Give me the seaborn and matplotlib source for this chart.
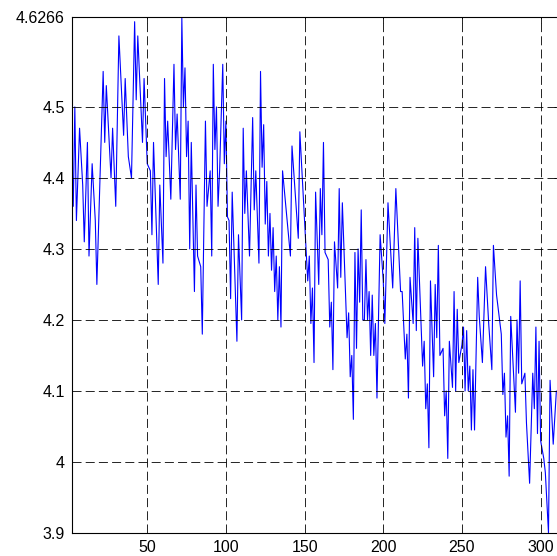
import matplotlib
matplotlib.use('Agg')
import matplotlib.pyplot as plt
import seaborn as sns
import pandas as pd

sample = [2, 3, 4, 5, 7, 9, 10, 12, 13, 15, 17, 18, 22, 23, 24, 27, 28, 30,
          32, 35, 36, 38, 40, 42, 43, 44, 47, 48, 50, 52, 53, 54, 57, 58, 60,
          61, 62, 63, 65, 67, 68, 69, 71, 72, 73, 74, 75, 76, 77, 78, 80, 81,
          82, 84, 85, 87, 88, 90, 91, 92, 93, 94, 95, 96, 98, 99, 100, 101,
          102, 103, 104, 107, 108, 110, 111, 112, 113, 115, 117, 118, 119,
          121, 122, 123, 124, 125, 126, 127, 128, 129, 130, 131, 132, 133,
          134, 135, 136, 141, 142, 146, 147, 152, 153, 154, 155, 156, 157,
          159, 160, 161, 162, 163, 165, 166, 167, 168, 169, 171, 172, 173,
          174, 177, 178, 179, 180, 181, 182, 183, 184, 185, 186, 187, 188,
          189, 190, 191, 192, 193, 194, 195, 196, 198, 200, 201, 203, 206,
          208, 211, 212, 214, 215, 216, 217, 219, 220, 221, 222, 225, 226,
          227, 228, 229, 230, 232, 233, 234, 235, 236, 238, 239, 240, 241,
          242, 244, 245, 246, 247, 248, 250, 251, 252, 253, 254, 255, 256,
          257, 258, 260, 261, 263, 265, 267, 269, 270, 272, 275, 276, 277,
          278, 279, 280, 281, 284, 285, 286, 287, 288, 290, 291, 293, 295,
          296, 297, 298, 299, 300, 302, 303, 305, 306, 308, 310]
value = [4.44, 4.36, 4.50, 4.34, 4.47, 4.39, 4.31, 4.45, 4.29, 4.42, 4.34,
         4.25, 4.55, 4.45, 4.53, 4.40, 4.47, 4.36,
         4.60, 4.46, 4.54, 4.43, 4.40, 4.62, 4.51, 4.60, 4.45, 4.54, 4.42,
         4.41, 4.32, 4.45, 4.25, 4.39, 4.28,
         4.54, 4.43, 4.48, 4.37, 4.56, 4.44, 4.49, 4.37, 4.625, 4.50, 4.555,
         4.43, 4.48, 4.30, 4.45, 4.24, 4.39,
         4.29, 4.275, 4.18, 4.48, 4.36, 4.41, 4.29, 4.56, 4.44, 4.50, 4.36,
         4.41, 4.56, 4.42, 4.48, 4.345,
         4.34, 4.23, 4.38, 4.17, 4.32, 4.20, 4.47, 4.35, 4.41, 4.29, 4.485,
         4.355, 4.41,
         4.28, 4.55, 4.415, 4.475, 4.335, 4.395, 4.29, 4.35, 4.27, 4.33,
         4.24, 4.29, 4.20,
         4.275, 4.19, 4.41, 4.29, 4.445, 4.315, 4.465, 4.255, 4.29, 4.195,
         4.245, 4.14, 4.38,
         4.25, 4.385, 4.32, 4.45, 4.295, 4.285, 4.19, 4.225, 4.13, 4.31,
         4.245, 4.385, 4.26,
         4.365, 4.175, 4.21, 4.12, 4.15, 4.06, 4.295, 4.16, 4.30, 4.225,
         4.355, 4.20, 4.20,
         4.285, 4.20, 4.24, 4.15, 4.235, 4.15, 4.195, 4.09, 4.32, 4.255,
         4.195, 4.365, 4.245,
         4.385, 4.24, 4.24, 4.145, 4.18, 4.09, 4.26, 4.195, 4.33, 4.185,
         4.315, 4.135, 4.17,
         4.075, 4.11, 4.02, 4.255, 4.12, 4.25, 4.175, 4.305, 4.15, 4.16,
         4.065, 4.10, 4.005,
         4.17, 4.105, 4.24, 4.10, 4.215, 4.14, 4.165, 4.19, 4.10, 4.185,
         4.10, 4.135, 4.045,
         4.13, 4.045, 4.26, 4.205, 4.14, 4.275, 4.195, 4.13, 4.305, 4.235,
         4.18, 4.095, 4.125,
         4.035, 4.065, 3.98, 4.205, 4.07, 4.20, 4.125, 4.255, 4.11, 4.125,
         4.055, 3.97, 4.125,
         4.075, 4.19, 4.04, 4.17, 4.03, 4.005, 3.985, 3.90, 4.115, 4.025,
         4.10]

xticks = [50, 100, 150, 200, 250, 300]
yticks = [3.9, 4.0, 4.1, 4.2, 4.3, 4.4, 4.5, 4.6266]
ytick_labels = ['3.9', '4', '4.1', '4.2', '4.3', '4.4', '4.5', '4.6266']

df = pd.DataFrame({'sample': sample, 'value': value})

sns.set_style('white')
plt.rcParams['font.family'] = ['Liberation Sans', 'DejaVu Sans']
plt.rcParams['lines.scale_dashes'] = False

fig = plt.figure(figsize=(5.57, 5.56), dpi=100)
ax = fig.add_axes([0.1287, 0.0414, 0.8758, 0.928])

sns.lineplot(data=df, x='sample', y='value', ax=ax, color='#0000ff',
             linewidth=0.8, estimator=None)

ax.set_xlim(2, 312)
ax.set_ylim(3.9, 4.6266)
ax.set_xticks(xticks)
ax.set_xticklabels([str(t) for t in xticks])
ax.set_yticks(yticks)
ax.set_yticklabels(ytick_labels)
ax.set_xlabel('')
ax.set_ylabel('')

ax.grid(True, color='black', linestyle=(0, (6.5, 3)), linewidth=0.6)
ax.set_axisbelow(False)
for s in ax.spines.values():
    s.set_color('black')
    s.set_linewidth(0.8)
ax.tick_params(direction='in', length=4, width=0.6, labelsize=11.5,
               colors='black', pad=5, top=True, right=True)

fig.savefig('out.png', dpi=100)
